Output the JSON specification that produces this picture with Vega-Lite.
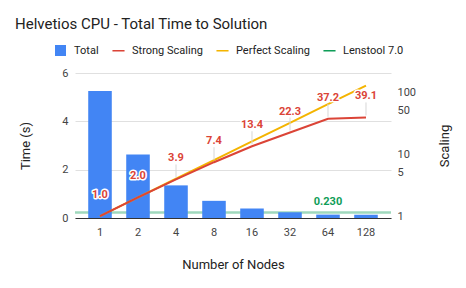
{
  "$schema": "https://vega.github.io/schema/vega-lite/v6.json",
  "width": 316,
  "height": 145,
  "autosize": {"type": "none"},
  "padding": {"left": 75, "top": 73, "right": 75, "bottom": 70},
  "background": "white",
  "config": {
    "font": "Roboto",
    "view": {"stroke": null},
    "axis": {"labelFont": "Roboto", "titleFont": "Roboto", "labelColor": "#444444", "titleColor": "#222222", "labelFontSize": 11, "titleFontSize": 13, "titleFontWeight": "normal", "ticks": false, "domain": false, "grid": false}
  },
  "title": {
    "text": "Helvetios CPU - Total Time to Solution",
    "anchor": "start",
    "frame": "group",
    "dx": -60,
    "offset": 13,
    "fontSize": 15,
    "fontWeight": "normal",
    "color": "#222222",
    "font": "Roboto"
  },
  "datasets": {
    "main": [
      {"nodes": "1", "total": 5.26, "strong": 1.0, "perfect": 1, "series": "Total"},
      {"nodes": "2", "total": 2.63, "strong": 2.0, "perfect": 2, "series": "Total"},
      {"nodes": "4", "total": 1.35, "strong": 3.9, "perfect": 4, "series": "Total"},
      {"nodes": "8", "total": 0.71, "strong": 7.4, "perfect": 8, "series": "Total"},
      {"nodes": "16", "total": 0.393, "strong": 13.4, "perfect": 16, "series": "Total"},
      {"nodes": "32", "total": 0.236, "strong": 22.3, "perfect": 32, "series": "Total"},
      {"nodes": "64", "total": 0.141, "strong": 37.2, "perfect": 64, "series": "Total"},
      {"nodes": "128", "total": 0.135, "strong": 39.1, "perfect": 128, "series": "Total"}
    ],
    "lenstool": [{"nodes": "64", "time": 0.23}]
  },
  "data": {"name": "main"},
  "layer": [
    {
      "layer": [
        {
          "data": {"name": "lenstool"},
          "mark": {"type": "rule", "color": "#0F9D58", "strokeOpacity": 0.4, "strokeWidth": 2.5},
          "encoding": {
            "y": {"field": "time", "type": "quantitative", "scale": {"domain": [0, 6], "nice": false}, "axis": {"orient": "left", "title": "Time (s)", "values": [0, 2, 4, 6], "grid": true, "gridColor": "#e0e0e0", "labelPadding": 7, "titlePadding": 29}}
          }
        },
        {
          "mark": {"type": "bar", "color": "#4285F4"},
          "encoding": {
            "x": {"field": "nodes", "type": "ordinal", "sort": ["1", "2", "4", "8", "16", "32", "64", "128"], "scale": {"paddingInner": 0.38, "paddingOuter": 0.348}, "axis": {"title": "Number of Nodes", "labelAngle": 0, "domain": true, "domainColor": "#333333", "labelPadding": 8, "titlePadding": 21}},
            "y": {"field": "total", "type": "quantitative"},
            "color": {"field": "series", "type": "nominal", "scale": {"domain": ["Total", "Strong Scaling", "Perfect Scaling", "Lenstool 7.0"], "range": ["#4285F4", "#DB4437", "#F4B400", "#0F9D58"]},
              "legend": {"title": null, "orient": "none", "direction": "horizontal", "legendX": -20, "legendY": -28, "symbolSize": 121, "labelFontSize": 11, "labelFont": "Roboto", "labelColor": "#222222", "labelOffset": 8, "columnPadding": 13, "labelLimit": 200,
                "encode": {"symbols": {"update": {"shape": {"signal": "datum.value === 'Total' ? 'square' : 'M-1.1,-0.14H1.1V0.14H-1.1Z'"}, "fill": {"scale": "color", "field": "value"}, "strokeWidth": {"value": 0}, "opacity": {"value": 1}}}}}}
          }
        },
        {
          "data": {"name": "lenstool"},
          "mark": {"type": "text", "color": "#0F9D58", "fontSize": 11, "fontWeight": "bold", "baseline": "middle", "dy": -10},
          "encoding": {
            "x": {"field": "nodes", "type": "ordinal", "sort": ["1", "2", "4", "8", "16", "32", "64", "128"]},
            "y": {"field": "time", "type": "quantitative"},
            "text": {"field": "time", "type": "quantitative", "format": ".3f"}
          }
        }
      ]
    },
    {
      "layer": [
        {
          "mark": {"type": "line", "color": "#F4B400", "strokeWidth": 2},
          "encoding": {
            "x": {"field": "nodes", "type": "ordinal", "sort": ["1", "2", "4", "8", "16", "32", "64", "128"]},
            "y": {"field": "perfect", "type": "quantitative", "scale": {"type": "log", "domain": [0.93, 204], "nice": false}, "axis": {"orient": "right", "title": "Scaling", "values": [1, 5, 10, 50, 100], "titleAngle": 270, "labelPadding": 6, "titlePadding": 36}}
          }
        },
        {
          "mark": {"type": "line", "color": "#DB4437", "strokeWidth": 2},
          "encoding": {
            "x": {"field": "nodes", "type": "ordinal", "sort": ["1", "2", "4", "8", "16", "32", "64", "128"]},
            "y": {"field": "strong", "type": "quantitative"}
          }
        },
        {
          "transform": [{"filter": "datum.strong >= 3"}],
          "mark": {"type": "rule", "color": "#d6d6d6", "strokeWidth": 1, "yOffset": -2, "y2Offset": -15},
          "encoding": {
            "x": {"field": "nodes", "type": "ordinal", "sort": ["1", "2", "4", "8", "16", "32", "64", "128"]},
            "y": {"field": "strong", "type": "quantitative"},
            "y2": {"field": "strong"}
          }
        },
        {
          "mark": {"type": "text", "fontSize": 11, "fontWeight": "bold", "baseline": "middle", "dy": -21, "stroke": "white", "strokeWidth": 3, "strokeJoin": "round", "fill": "white"},
          "encoding": {
            "x": {"field": "nodes", "type": "ordinal", "sort": ["1", "2", "4", "8", "16", "32", "64", "128"]},
            "y": {"field": "strong", "type": "quantitative"},
            "text": {"field": "strong", "type": "quantitative", "format": ".1f"}
          }
        },
        {
          "mark": {"type": "text", "fontSize": 11, "fontWeight": "bold", "baseline": "middle", "dy": -21, "color": "#DB4437"},
          "encoding": {
            "x": {"field": "nodes", "type": "ordinal", "sort": ["1", "2", "4", "8", "16", "32", "64", "128"]},
            "y": {"field": "strong", "type": "quantitative"},
            "text": {"field": "strong", "type": "quantitative", "format": ".1f"}
          }
        }
      ]
    }
  ],
  "resolve": {"scale": {"y": "independent"}}
}
